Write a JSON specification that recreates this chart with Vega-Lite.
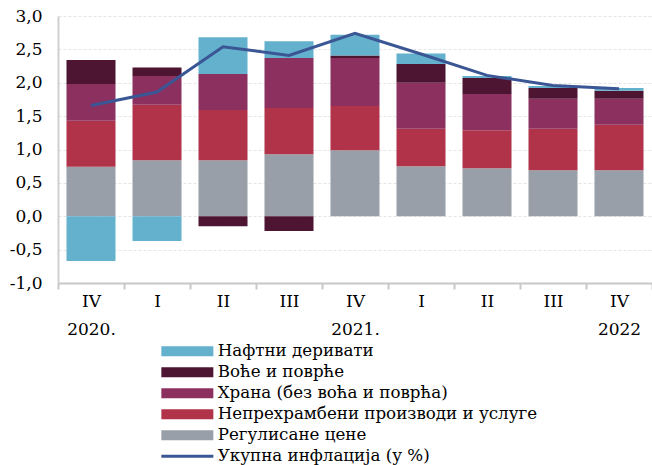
{
  "$schema": "https://vega.github.io/schema/vega-lite/v6.json",
  "width": 594,
  "height": 267,
  "autosize": {"type": "none"},
  "padding": {"left": 58, "top": 16, "right": 0, "bottom": 182},
  "config": {
    "view": {"stroke": null},
    "font": "DejaVu Serif",
    "axisY": {
      "values": [-1, -0.5, 0, 0.5, 1, 1.5, 2, 2.5, 3],
      "labelExpr": "replace(replace(format(datum.value, '.1f'), '.', ','), '−', '-')",
      "labelFontSize": 17, "labelColor": "#000", "ticks": false, "labelPadding": 16,
      "labelOverlap": false,
      "domainColor": "#d0d0d0", "domainWidth": 2,
      "gridColor": "#e4e4e4", "gridDash": [3, 2], "gridWidth": 1
    },
    "axisX": {
      "labelExpr": "datum.value ? split(datum.value, '|') : ''", "labelAngle": 0,
      "labelFontSize": 17, "labelColor": "#000", "labelPadding": 4, "labelLineHeight": 28,
      "labelBaseline": "top", "labelOverlap": false,
      "domainColor": "#c8c8c8", "domainWidth": 2, "tickColor": "#c8c8c8", "tickWidth": 2,
      "tickSize": 6, "tickBand": "extent", "grid": false
    }
  },
  "datasets": {
    "bars": [
      {"q": "IV|2020.", "c": "Регулисане цене", "o": 1, "v": 0.74},
      {"q": "IV|2020.", "c": "Непрехрамбени производи и услуге", "o": 2, "v": 0.69},
      {"q": "IV|2020.", "c": "Храна (без воћа и поврћа)", "o": 3, "v": 0.55},
      {"q": "IV|2020.", "c": "Воће и поврће", "o": 4, "v": 0.36},
      {"q": "IV|2020.", "c": "Нафтни деривати", "o": 5, "v": -0.67},
      {"q": "I|", "c": "Регулисане цене", "o": 1, "v": 0.84},
      {"q": "I|", "c": "Непрехрамбени производи и услуге", "o": 2, "v": 0.83},
      {"q": "I|", "c": "Храна (без воћа и поврћа)", "o": 3, "v": 0.43},
      {"q": "I|", "c": "Воће и поврће", "o": 4, "v": 0.13},
      {"q": "I|", "c": "Нафтни деривати", "o": 5, "v": -0.37},
      {"q": "II|", "c": "Регулисане цене", "o": 1, "v": 0.84},
      {"q": "II|", "c": "Непрехрамбени производи и услуге", "o": 2, "v": 0.75},
      {"q": "II|", "c": "Храна (без воћа и поврћа)", "o": 3, "v": 0.54},
      {"q": "II|", "c": "Воће и поврће", "o": 4, "v": -0.15},
      {"q": "II|", "c": "Нафтни деривати", "o": 5, "v": 0.55},
      {"q": "III|", "c": "Регулисане цене", "o": 1, "v": 0.93},
      {"q": "III|", "c": "Непрехрамбени производи и услуге", "o": 2, "v": 0.69},
      {"q": "III|", "c": "Храна (без воћа и поврћа)", "o": 3, "v": 0.75},
      {"q": "III|", "c": "Воће и поврће", "o": 4, "v": -0.22},
      {"q": "III|", "c": "Нафтни деривати", "o": 5, "v": 0.25},
      {"q": "IV|2021.", "c": "Регулисане цене", "o": 1, "v": 0.99},
      {"q": "IV|2021.", "c": "Непрехрамбени производи и услуге", "o": 2, "v": 0.66},
      {"q": "IV|2021.", "c": "Храна (без воћа и поврћа)", "o": 3, "v": 0.72},
      {"q": "IV|2021.", "c": "Воће и поврће", "o": 4, "v": 0.04},
      {"q": "IV|2021.", "c": "Нафтни деривати", "o": 5, "v": 0.31},
      {"q": "I| ", "c": "Регулисане цене", "o": 1, "v": 0.75},
      {"q": "I| ", "c": "Непрехрамбени производи и услуге", "o": 2, "v": 0.56},
      {"q": "I| ", "c": "Храна (без воћа и поврћа)", "o": 3, "v": 0.69},
      {"q": "I| ", "c": "Воће и поврће", "o": 4, "v": 0.28},
      {"q": "I| ", "c": "Нафтни деривати", "o": 5, "v": 0.16},
      {"q": "II| ", "c": "Регулисане цене", "o": 1, "v": 0.72},
      {"q": "II| ", "c": "Непрехрамбени производи и услуге", "o": 2, "v": 0.57},
      {"q": "II| ", "c": "Храна (без воћа и поврћа)", "o": 3, "v": 0.54},
      {"q": "II| ", "c": "Воће и поврће", "o": 4, "v": 0.24},
      {"q": "II| ", "c": "Нафтни деривати", "o": 5, "v": 0.03},
      {"q": "III| ", "c": "Регулисане цене", "o": 1, "v": 0.69},
      {"q": "III| ", "c": "Непрехрамбени производи и услуге", "o": 2, "v": 0.62},
      {"q": "III| ", "c": "Храна (без воћа и поврћа)", "o": 3, "v": 0.45},
      {"q": "III| ", "c": "Воће и поврће", "o": 4, "v": 0.16},
      {"q": "III| ", "c": "Нафтни деривати", "o": 5, "v": 0.03},
      {"q": "IV|2022", "c": "Регулисане цене", "o": 1, "v": 0.69},
      {"q": "IV|2022", "c": "Непрехрамбени производи и услуге", "o": 2, "v": 0.68},
      {"q": "IV|2022", "c": "Храна (без воћа и поврћа)", "o": 3, "v": 0.39},
      {"q": "IV|2022", "c": "Воће и поврће", "o": 4, "v": 0.12},
      {"q": "IV|2022", "c": "Нафтни деривати", "o": 5, "v": 0.04}
    ],
    "line": [
      {"q": "IV|2020.", "v": 1.66},
      {"q": "I|", "v": 1.86},
      {"q": "II|", "v": 2.54},
      {"q": "III|", "v": 2.41},
      {"q": "IV|2021.", "v": 2.74},
      {"q": "I| ", "v": 2.43},
      {"q": "II| ", "v": 2.11},
      {"q": "III| ", "v": 1.96},
      {"q": "IV|2022", "v": 1.91}
    ]
  },
  "layer": [
    {
      "data": {"name": "bars"},
      "mark": {"type": "bar", "width": 49},
      "encoding": {
        "x": {
          "field": "q", "type": "nominal", "sort": null,
          "scale": {"paddingInner": 0, "paddingOuter": 0},
          "axis": {"title": null}
        },
        "y": {
          "field": "v", "type": "quantitative", "stack": "zero",
          "scale": {"domain": [-1, 3], "nice": false},
          "axis": {"title": null, "values": [-1, -0.5, 0, 0.5, 1, 1.5, 2, 2.5, 3]}
        },
        "color": {
          "field": "c", "type": "nominal",
          "scale": {
            "domain": ["Нафтни деривати", "Воће и поврће", "Храна (без воћа и поврћа)", "Непрехрамбени производи и услуге", "Регулисане цене"],
            "range": ["#64B1CE", "#4E1533", "#8C3060", "#B0334A", "#989FA8"]
          },
          "legend": {
            "orient": "none", "legendX": 121, "legendY": 327, "title": null,
            "symbolType": "M-5.2,-1H5.2V1H-5.2Z", "symbolSize": 100, "symbolStrokeWidth": 0,
            "labelFontSize": 16.7, "labelColor": "#000", "labelOffset": 22, "rowPadding": 3,
            "labelLimit": 500
          }
        },
        "order": {"field": "o", "type": "quantitative"}
      }
    },
    {
      "data": {"name": "line"},
      "mark": {"type": "line", "strokeWidth": 3},
      "encoding": {
        "x": {"field": "q", "type": "nominal", "sort": null, "axis": {"title": null}},
        "y": {"field": "v", "type": "quantitative", "axis": {"title": null, "values": [-1, -0.5, 0, 0.5, 1, 1.5, 2, 2.5, 3]}},
        "stroke": {
          "datum": "Укупна инфлација (у %)",
          "scale": {"range": ["#3A5694"]},
          "legend": {
            "orient": "none", "legendX": 121, "legendY": 432, "title": null,
            "symbolType": "M-5.2,0H5.2", "symbolSize": 100, "symbolStrokeWidth": 3,
            "labelFontSize": 16.7, "labelColor": "#000", "labelOffset": 22, "labelLimit": 500
          }
        }
      }
    }
  ]
}
